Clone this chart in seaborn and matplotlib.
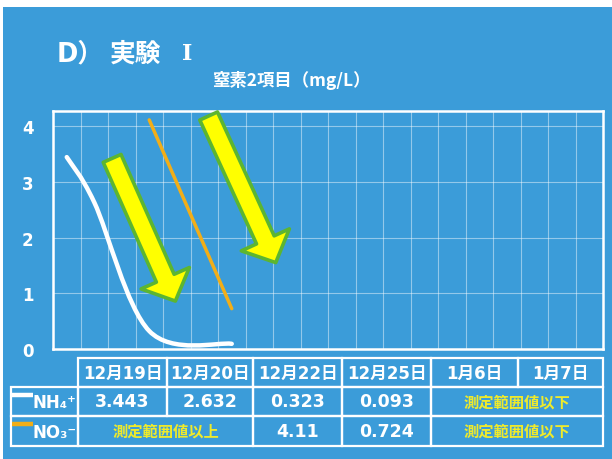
import numpy as np
import seaborn as sns
import matplotlib.pyplot as plt
from matplotlib.path import Path
from matplotlib.patches import PathPatch, Rectangle

# data
dates = ['12月19日', '12月20日', '12月22日', '12月25日', '1月6日', '1月7日']
nh4_days = [0, 1, 3, 6]
nh4_values = [3.443, 2.632, 0.323, 0.093]
no3_days = [3, 6]
no3_values = [4.11, 0.724]
below_label = '測定範囲値以下'
above_label = '測定範囲値以上'

blue = '#3b9cd9'
orange = '#f2ae18'
yellow_txt = '#eeea2c'
cjk = ['Noto Sans CJK JP', 'DejaVu Sans']
latin = ['DejaVu Sans', 'Noto Sans CJK JP']

sns.set_style('white')
plt.rcParams['font.family'] = latin

fig = plt.figure(figsize=(6.12, 4.6), dpi=100, facecolor='white')
fig.add_artist(Rectangle((3 / 612, 0), 1, (460 - 8) / 460, transform=fig.transFigure,
                         facecolor=blue, edgecolor='none', zorder=-5))

ax = fig.add_axes([53 / 612, 110 / 460, 550 / 612, 238 / 460])
ax.set_facecolor('none')
ax.set_xlim(0, 20)
ax.set_ylim(0, 4.27)
ax.set_xticks(range(21))
ax.set_xticklabels([])
ax.set_yticks(range(5))
ax.tick_params(axis='both', length=0)
ax.tick_params(axis='y', pad=14, labelcolor='white', labelsize=12)
for lab in ax.get_yticklabels():
    lab.set_fontweight('bold')
ax.grid(True, color='white', lw=0.8, alpha=0.45)
for s in ax.spines.values():
    s.set_visible(True)
    s.set_color('white')
    s.set_linewidth(1.8)

x_off = 0.5

# NH4+ : smoothed line (excel-like bezier through the points)
pts = np.column_stack([np.array(nh4_days) + x_off, nh4_values])
verts = [pts[0]]
codes = [Path.MOVETO]
n = len(pts)
for i in range(n - 1):
    p0 = pts[i - 1] if i > 0 else pts[i]
    p1, p2 = pts[i], pts[i + 1]
    p3 = pts[i + 2] if i + 2 < n else pts[i + 1]
    verts += [p1 + (p2 - p0) / 6, p2 - (p3 - p1) / 6, p2]
    codes += [Path.CURVE4] * 3
ax.add_patch(PathPatch(Path(verts, codes), fill=False, edgecolor='white', lw=3.2,
                       capstyle='round', zorder=4))

# NO3- : straight line
sns.lineplot(x=np.array(no3_days) + x_off, y=no3_values, ax=ax, color=orange, lw=2.5,
             solid_capstyle='round', zorder=4)

# decorative arrows
arrow_kw = dict(arrowstyle='simple,head_length=18,head_width=38,tail_width=14',
                mutation_scale=1, fc='#ffff00', ec='#5cb531', lw=2.6,
                shrinkA=0, shrinkB=0)
ax.annotate('', xy=(4.45, 0.86), xytext=(2.15, 3.42), arrowprops=arrow_kw, zorder=5)
ax.annotate('', xy=(8.1, 1.55), xytext=(5.66, 4.18), arrowprops=arrow_kw, zorder=5)

# titles
title_y = 1 - 54 / 460
fig.text(57 / 612, title_y, 'D）', ha='left', va='center', fontsize=18.5,
         weight='bold', color='white', family=latin)
fig.text(110 / 612, title_y, '実験', ha='left', va='center', fontsize=18.5,
         weight='bold', color='white', family=cjk)
fig.text(182 / 612, title_y, 'Ⅰ', ha='left', va='center', fontsize=16,
         weight='bold', color='white', family=['DejaVu Serif'])
fig.text(291 / 612, 1 - 80 / 460, '窒素2項目（mg/L）', ha='center', va='center',
         fontsize=12.5, weight='bold', color='white', family=cjk)

# table below the chart, drawn in pixel coordinates
tab = fig.add_axes([0, 0, 1, 1])
tab.set_xlim(0, 612)
tab.set_ylim(460, 0)
tab.axis('off')
cols = [78, 167, 253, 342, 431, 518, 603]
rows = [359, 388, 417, 447]
left = 11
lw_t = 1.6

def cell(c0, c1, r, text, color, size, fam):
    x0, x1 = cols[c0], cols[c1]
    y0, y1 = rows[r], rows[r + 1]
    tab.add_patch(Rectangle((x0, y0), x1 - x0, y1 - y0, fill=False, ec='white', lw=lw_t))
    tab.text((x0 + x1) / 2, (y0 + y1) / 2, text, ha='center', va='center', color=color,
             fontsize=size, weight='bold', family=fam)

for i, d in enumerate(dates):
    cell(i, i + 1, 0, d, 'white', 12, latin)

nh4_cells = [f'{v:g}' for v in nh4_values] + [below_label]
nh4_spans = [1, 1, 1, 1, 2]
no3_cells = [above_label] + [f'{v:g}' for v in no3_values] + [below_label]
no3_spans = [2, 1, 1, 2]
for r, (cells, spans) in enumerate([(nh4_cells, nh4_spans), (no3_cells, no3_spans)], start=1):
    c = 0
    for t, s in zip(cells, spans):
        is_label = t in (below_label, above_label)
        cell(c, c + s, r, t, yellow_txt if is_label else 'white', 11 if is_label else 12.5,
             cjk if is_label else latin)
        c += s

# row headers with line swatches
for r, (name, col) in enumerate([('NH₄⁺', 'white'), ('NO₃⁻', orange)], start=1):
    y0, y1 = rows[r], rows[r + 1]
    tab.add_patch(Rectangle((left, y0), cols[0] - left, y1 - y0, fill=False, ec='white', lw=lw_t))
    tab.plot([left + 1, 33], [y0 + 8, y0 + 8], color=col, lw=3.2, solid_capstyle='butt')
    tab.text(33, (y0 + y1) / 2 + 1, name, ha='left', va='center', color='white',
             fontsize=12, weight='bold', family=latin)

fig.savefig('out.png', dpi=100, facecolor='white')
